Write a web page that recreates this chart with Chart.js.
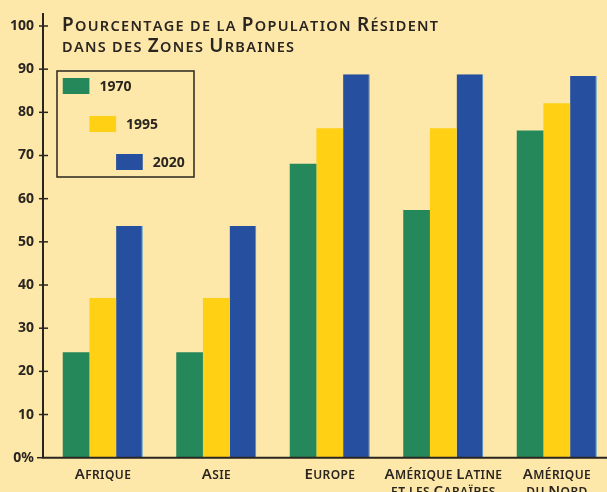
<!DOCTYPE html>
<html>
<head>
<meta charset="utf-8">
<script src="https://cdn.jsdelivr.net/npm/chart.js@4/dist/chart.umd.min.js"></script>
<style>
  html, body { margin: 0; padding: 0; background: #fde8aa; overflow: hidden; }
  #wrap { width: 620px; height: 492px; }
</style>
</head>
<body>
<div id="wrap"><canvas id="urbainChart" width="620" height="492"></canvas></div>
<script>
// Données
const categories = [['Afrique'], ['Asie'], ['Europe'], ['Amérique Latine', 'et les Caraïbes'], ['Amérique', 'du Nord']];
const annees = ['1970', '1995', '2020'];
const valeurs1970 = [24.4, 24.4, 68.1, 57.4, 75.8];
const valeurs1995 = [37, 37, 76.3, 76.3, 82.1];
const valeurs2020 = [53.7, 53.7, 88.8, 88.8, 88.4];
const yMax = 100;
const yPas = 10;
const titre = ['Pourcentage de la Population Résident', 'dans des Zones Urbaines'];

const couleurs = ['#24885a', '#ffd014', '#274fa0'];
const encre = '#2a2520';
const police = '"Noto Sans", "Open Sans", sans-serif';

// Petites capitales dessinées à la main
function largeurCaps(ctx, texte, grand, petit, poids, espace) {
    let total = 0;
    for (const ch of texte) {
        const estGrand = ch !== ch.toLowerCase();
        ctx.font = poids + ' ' + (estGrand ? grand : petit) + 'px ' + police;
        total += ctx.measureText(ch.toUpperCase()).width + espace;
    }
    return total - espace;
}

function dessinerCaps(ctx, texte, x, y, grand, petit, poids, espace, align) {
    let w = largeurCaps(ctx, texte, grand, petit, poids, espace);
    let cx = align === 'center' ? x - w / 2 : x;
    ctx.textAlign = 'left';
    ctx.textBaseline = 'alphabetic';
    for (const ch of texte) {
        const estGrand = ch !== ch.toLowerCase();
        ctx.font = poids + ' ' + (estGrand ? grand : petit) + 'px ' + police;
        const c = ch.toUpperCase();
        ctx.fillText(c, cx, y);
        cx += ctx.measureText(c).width + espace;
    }
}

const decor = {
    id: 'decor',
    afterDraw(chart) {
        const ctx = chart.ctx;
        const yS = chart.scales.y;
        const xS = chart.scales.x;
        const axeX = 43;
        const bas = yS.getPixelForValue(0);
        ctx.save();
        ctx.strokeStyle = encre;
        ctx.fillStyle = encre;
        ctx.lineWidth = 2;

        // axes
        ctx.beginPath();
        ctx.moveTo(axeX, 13);
        ctx.lineTo(axeX, bas);
        ctx.lineTo(chart.width, bas);
        ctx.stroke();

        // graduations
        ctx.lineWidth = 1.5;
        yS.ticks.forEach(t => {
            const py = yS.getPixelForValue(t.value);
            ctx.beginPath();
            if (t.value === 0) {
                ctx.moveTo(axeX - 6, py);
                ctx.lineTo(axeX, py);
            } else {
                ctx.moveTo(axeX - 4, py);
                ctx.lineTo(axeX + 5, py);
            }
            ctx.stroke();
        });

        // titre
        dessinerCaps(ctx, titre[0], 62, 30.5, 19, 14.5, '600', 1.3, 'left');
        dessinerCaps(ctx, titre[1], 62, 51.5, 19, 14.5, '600', 1.3, 'left');

        // étiquettes des catégories
        categories.forEach((lignes, i) => {
            const px = xS.getPixelForTick(i);
            lignes.forEach((l, j) => {
                dessinerCaps(ctx, l, px, 478.5 + j * 17, 15, 12, '600', 0.4, 'center');
            });
        });

        // légende en escalier
        ctx.lineWidth = 1.5;
        ctx.strokeRect(57, 71, 137, 106);
        chart.data.datasets.forEach((ds, i) => {
            const barre = chart.getDatasetMeta(i).data[0];
            const gauche = barre.x - barre.width / 2;
            const haut = 78 + i * 38;
            ctx.fillStyle = ds.backgroundColor;
            ctx.fillRect(gauche, haut, barre.width, 16);
            ctx.fillStyle = encre;
            ctx.font = 'bold 14px ' + police;
            ctx.textAlign = 'left';
            ctx.textBaseline = 'middle';
            ctx.fillText(ds.label, gauche + barre.width + 10, haut + 9);
        });
        ctx.restore();
    }
};

const ctx = document.getElementById('urbainChart').getContext('2d');
const graphique = new Chart(ctx, {
    type: 'bar',
    data: {
        labels: categories.map(c => c.join(' ')),
        datasets: [
            { label: annees[0], data: valeurs1970, backgroundColor: couleurs[0] },
            { label: annees[1], data: valeurs1995, backgroundColor: couleurs[1] },
            { label: annees[2], data: valeurs2020, backgroundColor: couleurs[2],
              borderColor: '#3d8fd0', borderWidth: { top: 0, right: 1, left: 0, bottom: 0 } }
        ]
    },
    options: {
        responsive: false,
        animation: false,
        devicePixelRatio: 1,
        layout: { padding: { top: 26, right: 6.5, left: 0, bottom: 0 } },
        datasets: { bar: { categoryPercentage: 0.705, barPercentage: 1, borderSkipped: 'start' } },
        plugins: { legend: { display: false }, tooltip: { enabled: false } },
        scales: {
            x: {
                grid: { display: false },
                border: { display: false },
                ticks: { display: false },
                afterFit: s => { s.height = 34.3; }
            },
            y: {
                min: 0,
                max: yMax,
                grid: { display: false, drawTicks: false },
                border: { display: false },
                ticks: {
                    stepSize: yPas,
                    padding: 12,
                    color: encre,
                    font: { family: police, size: 14, weight: 'bold' },
                    callback: v => v === 0 ? '0%' : v
                },
                afterFit: s => { s.width = 46; }
            }
        }
    },
    plugins: [decor]
});
</script>
</body>
</html>
